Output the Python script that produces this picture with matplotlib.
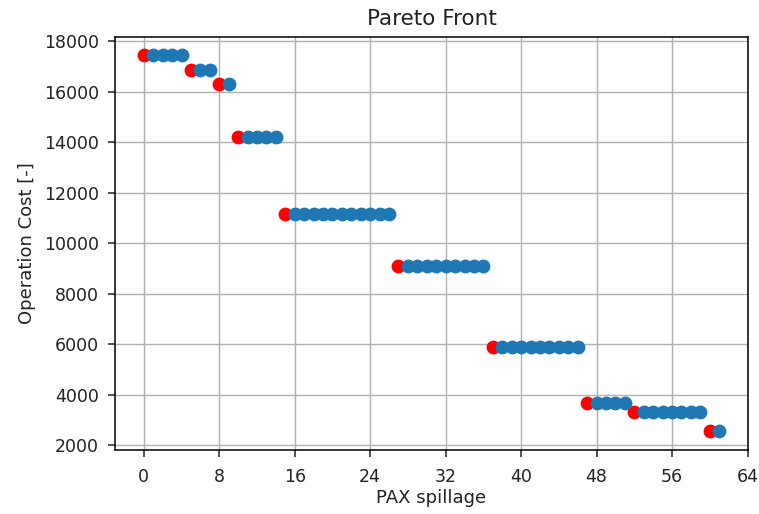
import matplotlib
matplotlib.use("Agg")
import matplotlib.pyplot as plt

pareto_x = [0, 5, 8, 10, 15, 27, 37, 47, 52, 60]
pareto_y = [17450, 16850, 16300, 14200, 11150, 9100, 5900, 3650, 3300, 2550]

other_x = [1, 2, 3, 4,
           6, 7,
           9,
           11, 12, 13, 14,
           16, 17, 18, 19, 20, 21, 22, 23, 24, 25, 26,
           28, 29, 30, 31, 32, 33, 34, 35, 36,
           38, 39, 40, 41, 42, 43, 44, 45, 46,
           48, 49, 50, 51,
           53, 54, 55, 56, 57, 58, 59,
           61]
other_y = [17450] * 4 + [16850] * 2 + [16300] * 1 + [14200] * 4 + \
          [11150] * 11 + [9100] * 9 + [5900] * 9 + [3650] * 4 + \
          [3300] * 7 + [2550] * 1

x_ticks = [0, 8, 16, 24, 32, 40, 48, 56, 64]
y_ticks = [2000, 4000, 6000, 8000, 10000, 12000, 14000, 16000, 18000]

fig = plt.figure(figsize=(7.59, 5.14), dpi=100)
ax = fig.add_axes([115 / 759, 1 - 450 / 514, (748 - 115) / 759, (450 - 36.5) / 514])

ax.scatter(pareto_x, pareto_y, s=80, color="red", zorder=3)
ax.scatter(other_x, other_y, s=80, color="#1f77b4", zorder=3)

ax.set_xticks(x_ticks)
ax.set_yticks(y_ticks)
ax.set_xlim(-3.05, 64.05)
ax.set_ylim(1805, 18195)
ax.grid(True, color="#b0b0b0", linewidth=1.0)
ax.set_axisbelow(True)
for s in ax.spines.values():
    s.set_linewidth(1.1)
ax.tick_params(labelsize=12.5, length=5, width=1.1, colors="#222222", labelcolor="#222222")
ax.tick_params(axis="x", pad=8)
ax.tick_params(axis="y", pad=6.5)
ax.set_xlabel("PAX spillage", fontsize=13, color="#222222", labelpad=2)
ax.set_ylabel("Operation Cost [-]", fontsize=13, color="#222222", labelpad=6)
ax.set_title("Pareto Front", fontsize=15.5, color="#222222", pad=8)

fig.savefig("out.png", dpi=100)
